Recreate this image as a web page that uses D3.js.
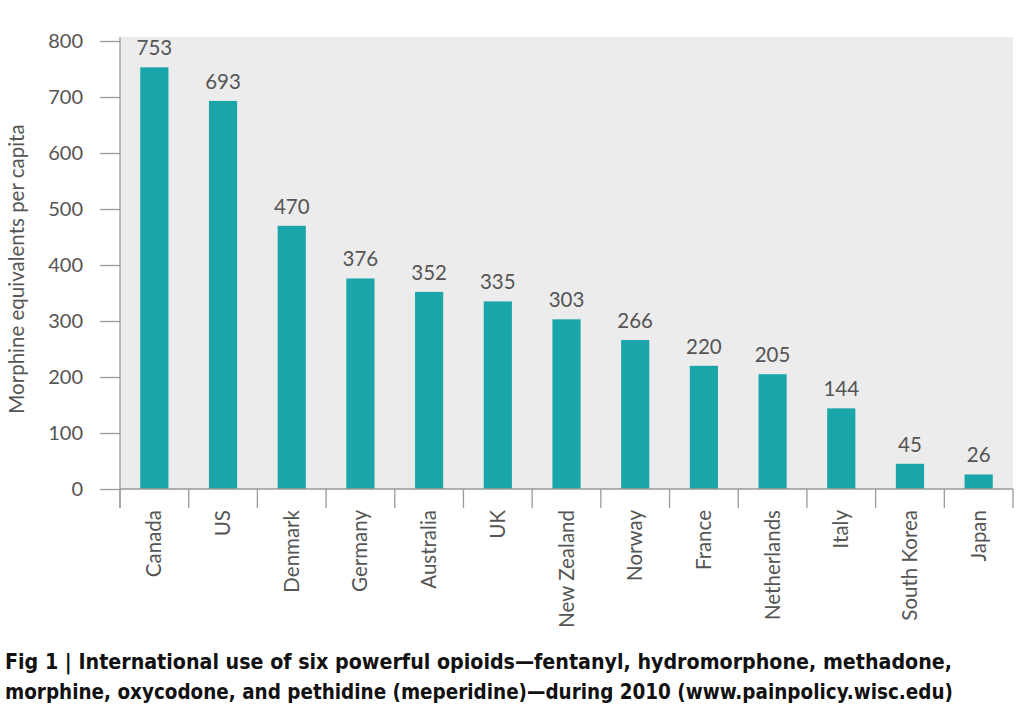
<!DOCTYPE html>
<html><head><meta charset="utf-8">
<script src="https://cdn.jsdelivr.net/npm/d3@7"></script>
<style>body{margin:0;background:#fff}svg{display:block}</style>
</head><body>
<svg id="c" width="1024" height="706"></svg>
<script>
const countries = ["Canada","US","Denmark","Germany","Australia","UK","New Zealand","Norway","France","Netherlands","Italy","South Korea","Japan"];
const values = [753,693,470,376,352,335,303,266,220,205,144,45,26];
const yTicks = [0,100,200,300,400,500,600,700,800];
const yTitle = "Morphine equivalents per capita";
const captionLines = ["Fig 1 | International use of six powerful opioids\u2014fentanyl, hydromorphone, methadone,",
  "morphine, oxycodone, and pethidine (meperidine)\u2014during 2010 (www.painpolicy.wisc.edu)"];

const svg = d3.select("#c");
const L=120, R=1013, T=37, B=489;
const x = d3.scaleBand().domain(countries).range([L,R]).paddingInner(0.59).paddingOuter(0.295);
const y = d3.scaleLinear().domain([0,800]).range([B,41]);
const grey="#9a9a9a", txt="#555";

svg.append("rect").attr("x",L).attr("y",T).attr("width",R-L).attr("height",B-T).attr("fill","#ececec");

svg.append("g").selectAll("rect").data(values).join("rect")
  .attr("x",(d,i)=>x(countries[i])).attr("width",x.bandwidth())
  .attr("y",d=>y(d)).attr("height",d=>B-y(d)).attr("fill","#1aa6a9");

svg.append("g").selectAll("text").data(values).join("text")
  .attr("x",(d,i)=>x(countries[i])+x.bandwidth()/2).attr("y",d=>y(d)-12)
  .attr("text-anchor","middle").attr("font-family","Lato").attr("font-size",20.5).attr("fill",txt).text(d=>d);

// y axis
const ya = svg.append("g").attr("transform",`translate(${L},0)`)
  .call(d3.axisLeft(y).tickValues(yTicks).tickSize(20).tickPadding(17));
ya.select(".domain").remove();
ya.selectAll("line").attr("stroke",grey).attr("stroke-width",1.3);
ya.selectAll("text").attr("font-family","Lato").attr("font-size",20).attr("fill",txt);

// x axis line and band ticks
svg.append("line").attr("x1",L).attr("x2",R).attr("y1",B).attr("y2",B).attr("stroke",grey).attr("stroke-width",1.3);
svg.append("line").attr("x1",L).attr("x2",L).attr("y1",T).attr("y2",508).attr("stroke",grey).attr("stroke-width",1.3);
const step = x.step();
const bounds = d3.range(countries.length+1).map(i=>L+i*step);
svg.append("g").selectAll("line").data(bounds).join("line")
  .attr("x1",d=>d).attr("x2",d=>d).attr("y1",B).attr("y2",508).attr("stroke",grey).attr("stroke-width",1.3);

svg.append("g").selectAll("text").data(countries).join("text")
  .attr("transform",d=>`translate(${x(d)+x.bandwidth()/2+7},510) rotate(-90)`)
  .attr("text-anchor","end").attr("font-family","Lato").attr("font-size",20.5).attr("fill",txt).text(d=>d);

svg.append("text").attr("transform",`translate(24,${(T+B)/2+6}) rotate(-90)`)
  .attr("text-anchor","middle").attr("font-family","Lato").attr("font-size",20.5).attr("fill",txt).text(yTitle);

const capW=[947,948];
svg.append("g").selectAll("text").data(captionLines).join("text")
  .attr("x",5).attr("y",(d,i)=>669+i*30)
  .attr("font-family","'DejaVu Sans Condensed', 'DejaVu Sans'").attr("font-stretch","condensed").attr("font-weight","bold")
  .attr("font-size",21).attr("fill","#111")
  .attr("textLength",(d,i)=>capW[i]).attr("lengthAdjust","spacingAndGlyphs").text(d=>d);
</script>
</body></html>
